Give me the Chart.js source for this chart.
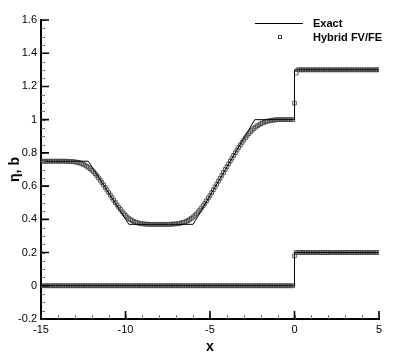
<!DOCTYPE html>
<html>
<head>
<meta charset="utf-8">
<script src="https://cdn.jsdelivr.net/npm/chart.js@4/dist/chart.umd.min.js"></script>
<style>
  html,body{margin:0;padding:0;background:#fff;}
  canvas{display:block;}
</style>
</head>
<body>
<canvas id="c" width="407" height="362"></canvas>
<script>
// ---- data ----
const exactEtaX = [-15, -12.2, -9.8, -6.0, -2.35, 0, 0, 5];
const exactEtaY = [0.75, 0.75, 0.37, 0.37, 1.0, 1.0, 1.3, 1.3];
const exactBX = [-15, 0, 0, 5];
const exactBY = [0, 0, 0.2, 0.2];

const hybridX = [
  -15,-14.9,-14.8,-14.7,-14.6,-14.5,-14.4,-14.3,-14.2,-14.1,
  -14,-13.9,-13.8,-13.7,-13.6,-13.5,-13.4,-13.3,-13.2,-13.1,
  -13,-12.9,-12.8,-12.7,-12.6,-12.5,-12.4,-12.3,-12.2,-12.1,
  -12,-11.9,-11.8,-11.7,-11.6,-11.5,-11.4,-11.3,-11.2,-11.1,
  -11,-10.9,-10.8,-10.7,-10.6,-10.5,-10.4,-10.3,-10.2,-10.1,
  -10,-9.9,-9.8,-9.7,-9.6,-9.5,-9.4,-9.3,-9.2,-9.1,
  -9,-8.9,-8.8,-8.7,-8.6,-8.5,-8.4,-8.3,-8.2,-8.1,
  -8,-7.9,-7.8,-7.7,-7.6,-7.5,-7.4,-7.3,-7.2,-7.1,
  -7,-6.9,-6.8,-6.7,-6.6,-6.5,-6.4,-6.3,-6.2,-6.1,
  -6,-5.9,-5.8,-5.7,-5.6,-5.5,-5.4,-5.3,-5.2,-5.1,
  -5,-4.9,-4.8,-4.7,-4.6,-4.5,-4.4,-4.3,-4.2,-4.1,
  -4,-3.9,-3.8,-3.7,-3.6,-3.5,-3.4,-3.3,-3.2,-3.1,
  -3,-2.9,-2.8,-2.7,-2.6,-2.5,-2.4,-2.3,-2.2,-2.1,
  -2,-1.9,-1.8,-1.7,-1.6,-1.5,-1.4,-1.3,-1.2,-1.1,
  -1,-0.9,-0.8,-0.7,-0.6,-0.5,-0.4,-0.3,-0.2,-0.1,
  0,0.1,0.2,0.3,0.4,0.5,0.6,0.7,0.8,0.9,
  1,1.1,1.2,1.3,1.4,1.5,1.6,1.7,1.8,1.9,
  2,2.1,2.2,2.3,2.4,2.5,2.6,2.7,2.8,2.9,
  3,3.1,3.2,3.3,3.4,3.5,3.6,3.7,3.8,3.9,
  4,4.1,4.2,4.3,4.4,4.5,4.6,4.7,4.8,4.9,
  5
];
const hybridEta = [
  0.75,0.75,0.75,0.75,0.75,0.75,0.75,0.75,0.75,0.75,
  0.75,0.75,0.75,0.75,0.75,0.75,0.749,0.749,0.748,0.747,
  0.746,0.744,0.742,0.739,0.735,0.731,0.726,0.720,0.713,0.705,
  0.696,0.686,0.675,0.663,0.650,0.636,0.622,0.607,0.592,0.577,
  0.561,0.546,0.531,0.516,0.501,0.487,0.473,0.460,0.447,0.435,
  0.424,0.414,0.405,0.398,0.392,0.387,0.383,0.379,0.377,0.375,
  0.373,0.372,0.371,0.371,0.37,0.37,0.37,0.37,0.37,0.37,
  0.37,0.37,0.37,0.37,0.37,0.37,0.37,0.371,0.371,0.372,
  0.373,0.374,0.376,0.378,0.381,0.384,0.388,0.393,0.399,0.406,
  0.414,0.423,0.433,0.444,0.456,0.469,0.483,0.497,0.512,0.528,
  0.544,0.561,0.578,0.595,0.612,0.630,0.647,0.665,0.682,0.700,
  0.717,0.734,0.751,0.768,0.785,0.801,0.817,0.833,0.848,0.863,
  0.877,0.891,0.904,0.916,0.927,0.938,0.947,0.955,0.963,0.969,
  0.975,0.980,0.984,0.988,0.991,0.993,0.995,0.997,0.998,0.999,
  1,1,1,1,1,1,1,1,1,1,
  1.1,1.28,1.3,1.3,1.3,1.3,1.3,1.3,1.3,1.3,
  1.3,1.3,1.3,1.3,1.3,1.3,1.3,1.3,1.3,1.3,
  1.3,1.3,1.3,1.3,1.3,1.3,1.3,1.3,1.3,1.3,
  1.3,1.3,1.3,1.3,1.3,1.3,1.3,1.3,1.3,1.3,
  1.3,1.3,1.3,1.3,1.3,1.3,1.3,1.3,1.3,1.3,
  1.3
];
const hybridB = [
  0,0,0,0,0,0,0,0,0,0,
  0,0,0,0,0,0,0,0,0,0,
  0,0,0,0,0,0,0,0,0,0,
  0,0,0,0,0,0,0,0,0,0,
  0,0,0,0,0,0,0,0,0,0,
  0,0,0,0,0,0,0,0,0,0,
  0,0,0,0,0,0,0,0,0,0,
  0,0,0,0,0,0,0,0,0,0,
  0,0,0,0,0,0,0,0,0,0,
  0,0,0,0,0,0,0,0,0,0,
  0,0,0,0,0,0,0,0,0,0,
  0,0,0,0,0,0,0,0,0,0,
  0,0,0,0,0,0,0,0,0,0,
  0,0,0,0,0,0,0,0,0,0,
  0,0,0,0,0,0,0,0,0,0,
  0.18,0.2,0.2,0.2,0.2,0.2,0.2,0.2,0.2,0.2,
  0.2,0.2,0.2,0.2,0.2,0.2,0.2,0.2,0.2,0.2,
  0.2,0.2,0.2,0.2,0.2,0.2,0.2,0.2,0.2,0.2,
  0.2,0.2,0.2,0.2,0.2,0.2,0.2,0.2,0.2,0.2,
  0.2,0.2,0.2,0.2,0.2,0.2,0.2,0.2,0.2,0.2,
  0.2
];

const xRange = [-15, 5];
const yRange = [-0.2, 1.6];
const seriesNames = ['Exact', 'Hybrid FV/FE'];

const pts = (xs, ys) => xs.map((v, i) => ({ x: v, y: ys[i] }));

const FONT = '"Liberation Sans", Arial, Helvetica, sans-serif';
const MARK = '#4a4a4a';

// ---- ticks pointing inward (tecplot style) ----
const innerTicks = {
  id: 'innerTicks',
  afterDraw(chart) {
    const { ctx, chartArea: a, scales: { x, y } } = chart;
    ctx.save();
    // minor
    ctx.strokeStyle = '#777';
    ctx.lineWidth = 1;
    ctx.beginPath();
    for (let v = xRange[0]; v <= xRange[1] + 1e-9; v += 1) {
      const px = Math.round(x.getPixelForValue(v)) + 0.5;
      ctx.moveTo(px, a.bottom); ctx.lineTo(px, a.bottom - 4);
    }
    for (let k = 0; k <= 36; k++) {
      const py = Math.round(y.getPixelForValue(yRange[0] + k * 0.05)) + 0.5;
      ctx.moveTo(a.left, py); ctx.lineTo(a.left + 4, py);
    }
    ctx.stroke();
    // major
    ctx.strokeStyle = '#000';
    ctx.lineWidth = 1.6;
    ctx.beginPath();
    x.ticks.forEach(t => {
      const px = x.getPixelForValue(t.value);
      ctx.moveTo(px, a.bottom); ctx.lineTo(px, a.bottom - 8);
    });
    y.ticks.forEach(t => {
      const py = y.getPixelForValue(t.value);
      ctx.moveTo(a.left, py); ctx.lineTo(a.left + 8, py);
    });
    ctx.stroke();
    ctx.restore();
  }
};

// ---- legend box top right ----
const legendBox = {
  id: 'legendBox',
  afterDraw(chart) {
    const ctx = chart.ctx;
    ctx.save();
    ctx.strokeStyle = '#000';
    ctx.lineWidth = 1;
    ctx.beginPath();
    ctx.moveTo(255, 23.5); ctx.lineTo(303, 23.5);
    ctx.stroke();
    ctx.strokeStyle = MARK;
    ctx.strokeRect(278.5, 35.5, 3, 3);
    ctx.fillStyle = '#000';
    ctx.font = 'bold 11px ' + FONT;
    ctx.textBaseline = 'middle';
    ctx.fillText(seriesNames[0], 313, 24);
    ctx.fillText(seriesNames[1], 313, 37.5);
    ctx.restore();
  }
};

const tickFmt = v => String(Number(v.toFixed(2)));

new Chart(document.getElementById('c'), {
  type: 'scatter',
  data: {
    datasets: [
      { label: seriesNames[0], data: pts(exactEtaX, exactEtaY), showLine: true, pointRadius: 0,
        borderColor: '#000', borderWidth: 1, fill: false },
      { label: seriesNames[0] + ' b', data: pts(exactBX, exactBY), showLine: true, pointRadius: 0,
        borderColor: '#000', borderWidth: 1, fill: false },
      { label: seriesNames[1], data: pts(hybridX, hybridEta), showLine: false, pointStyle: 'rect',
        pointRadius: 2.6, borderColor: MARK, borderWidth: 0.9, backgroundColor: 'rgba(0,0,0,0)' },
      { label: seriesNames[1] + ' b', data: pts(hybridX, hybridB), showLine: false, pointStyle: 'rect',
        pointRadius: 2.6, borderColor: MARK, borderWidth: 0.9, backgroundColor: 'rgba(0,0,0,0)' }
    ]
  },
  options: {
    responsive: false,
    animation: false,
    devicePixelRatio: 1,
    layout: { padding: { top: 20, right: 28, left: 0, bottom: 0 } },
    plugins: { legend: { display: false }, tooltip: { enabled: false } },
    scales: {
      x: {
        type: 'linear', position: 'bottom', min: xRange[0], max: xRange[1],
        afterFit: s => { s.height = 43; },
        grid: { display: false, drawTicks: false },
        border: { display: true, color: '#000', width: 2 },
        ticks: { stepSize: 5, color: '#000', padding: 4, font: { family: FONT, size: 11 }, callback: tickFmt },
        title: { display: true, text: 'x', color: '#000', padding: { top: 0, bottom: 6 },
                 font: { family: FONT, size: 14, weight: 'bold' } }
      },
      y: {
        type: 'linear', min: yRange[0], max: yRange[1],
        afterFit: s => { s.width = 41; },
        grid: { display: false, drawTicks: false },
        border: { display: true, color: '#000', width: 2 },
        ticks: { stepSize: 0.2, color: '#000', padding: 4, font: { family: FONT, size: 11 }, callback: tickFmt },
        title: { display: true, text: 'η, b', color: '#000', padding: { top: 7, bottom: 0 },
                 font: { family: FONT, size: 14, weight: 'bold' } }
      }
    }
  },
  plugins: [innerTicks, legendBox]
});
</script>
</body>
</html>
